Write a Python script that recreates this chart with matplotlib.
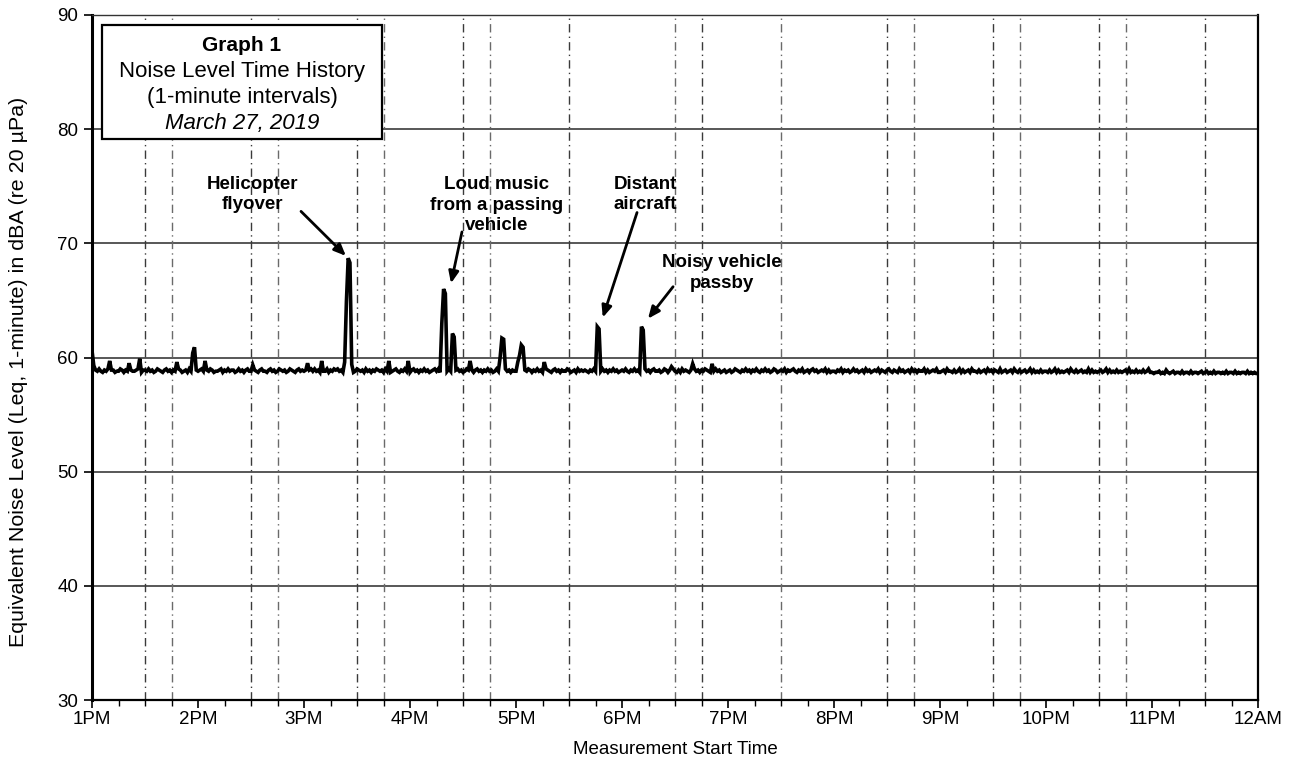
import numpy as np
import matplotlib
matplotlib.use("Agg")
import matplotlib.pyplot as plt
from matplotlib.ticker import MultipleLocator

plt.rcParams['font.family'] = ['Liberation Sans', 'DejaVu Sans']

# Per-minute background level, one string per hour (1PM .. 11PM).
# Each digit d stands for 58.5 + 0.1*d dBA.
hour_levels = [
    "4343532435 3442335424 3543345324 4353423543 2453424335 4234253434",
    "3453243542 3345243534 4235342453 3543245332 4534235434 2354324534",
    "3424535342 4335243545 3424353423 5434253424 3543425342 3453243534",
    "2453424353 4234535243 4353424534 2354342453 4243534235 3424534243",
    "3534243542 4353423543 2453424335 4234253434 3243534235 3424353423",
    "4353243534 2435342453 3423542435 3242534324 3534243543 2435342342",
    "3423543243 5342435324 3534235423 4352434532 4352342453 4234352423",
    "3243524342 3534234253 4234352432 4532432534 2342534243 3524234352",
    "2342533242 3524234253 3242342534 2432523423 4253242342 3524232423",
    "3242352423 2342532423 4232524232 3423524232 4232342523 2423242352",
    "2122312142 1231221312 2131221231 2312131221 2131221312 1221312121",
]
final_level_digit = "1"

# Minutes (after 1PM) with louder readings, and their levels in dBA.
event_minutes = [0, 1, 10, 21, 27, 48, 57, 58, 64, 91, 122, 130,
                 143, 144, 145, 146, 147, 168, 179,
                 198, 199, 200, 204, 205, 214,
                 231, 232, 233, 241, 242, 243, 244, 256,
                 286, 287, 311, 312, 328, 340, 351]
event_levels = [60.6, 59.3, 59.7, 59.5, 59.9, 59.6, 60.4, 60.9, 59.7, 59.35, 59.5, 59.7,
                59.6, 64.9, 68.7, 68.3, 59.4, 59.7, 59.7,
                63.0, 66.0, 65.6, 62.1, 61.8, 59.7,
                60.0, 61.7, 61.6, 59.6, 60.2, 61.1, 60.9, 59.6,
                62.7, 62.5, 62.7, 62.4, 59.2, 59.45, 59.45]

hour_labels = ['1PM', '2PM', '3PM', '4PM', '5PM', '6PM', '7PM', '8PM',
               '9PM', '10PM', '11PM', '12AM']

# Faint dash-dot verticals at the half hour and quarter-to marks (minutes)
guide_minutes = [30, 45, 90, 105, 150, 165, 210, 225, 270, 330, 345,
                 390, 450, 465, 510, 525, 570, 585, 630]

annotations = [
    ("Helicopter\nflyover", (90.6, 74.3), (118.3, 72.8), (143.7, 68.9)),
    ("Loud music\nfrom a passing\nvehicle", (229.2, 73.35), (209.4, 71.0), (203.2, 66.5)),
    ("Distant\naircraft", (313.0, 74.3), (308.5, 72.7), (289.1, 63.5)),
    ("Noisy vehicle\npassby", (356.6, 67.4), (328.9, 66.2), (314.7, 63.4)),
]

# ---- assemble the series ----
digits = "".join(s.replace(" ", "") for s in hour_levels) + final_level_digit
levels = np.array([58.5 + 0.1 * int(c) for c in digits])
for m, v in zip(event_minutes, event_levels):
    levels[m] = v
minutes = np.arange(len(levels))

fig = plt.figure(figsize=(12.96, 7.61), dpi=100)
ax = fig.add_axes([0.0710, 0.0801, 0.8997, 0.9002])

ax.set_xlim(0, 660)
ax.set_ylim(30, 90)

# horizontal grid
for y in [40, 50, 60, 70, 80]:
    ax.axhline(y, color='#2a2a2a', lw=1.1, zorder=1)

# vertical guides
for i, m in enumerate(guide_minutes):
    ax.axvline(m, color='#3a3a3a' if i % 2 == 0 else '#6a6a6a',
               lw=1.0, ls=(0, (6, 3, 1, 3)), zorder=1)

ax.plot(minutes, levels, color='black', lw=2.6, zorder=3,
        solid_joinstyle='miter')

# axes styling
ax.spines['left'].set_linewidth(2.2)
ax.spines['right'].set_linewidth(1.6)
ax.spines['bottom'].set_linewidth(1.6)
ax.spines['top'].set_linewidth(1.0)
ax.spines['top'].set_linestyle((0, (1.5, 1)))
ax.spines['top'].set_color('#333333')

ax.set_xticks(np.arange(0, 661, 60))
ax.set_xticklabels(hour_labels)
ax.xaxis.set_minor_locator(MultipleLocator(15))
ax.set_yticks(np.arange(30, 91, 10))
ax.tick_params(axis='x', which='major', direction='out', length=6, width=1.2,
               labelsize=13.5, pad=2)
ax.tick_params(axis='x', which='minor', direction='out', length=4, width=1.0)
ax.tick_params(axis='y', which='major', direction='out', length=6, width=1.2,
               labelsize=13.5, pad=4)

ax.set_xlabel('Measurement Start Time', fontsize=13.5, labelpad=9)
ax.set_ylabel('Equivalent Noise Level (Leq, 1-minute) in dBA (re 20 µPa)',
              fontsize=15.4)
ax.yaxis.set_label_coords(-0.055, 0.479)

# title box
ax.add_patch(plt.Rectangle((0.0086, 0.819), 0.2401, 0.1664,
                           transform=ax.transAxes, facecolor='white',
                           edgecolor='black', lw=1.6, zorder=5))
ax.text(0.1286, 0.956, 'Graph 1', transform=ax.transAxes, ha='center',
        va='center', fontsize=15, fontweight='bold', zorder=6)
ax.text(0.1286, 0.918, 'Noise Level Time History', transform=ax.transAxes,
        ha='center', va='center', fontsize=16, zorder=6)
ax.text(0.1286, 0.880, '(1-minute intervals)', transform=ax.transAxes,
        ha='center', va='center', fontsize=16, zorder=6)
ax.text(0.1286, 0.842, 'March 27, 2019', transform=ax.transAxes,
        ha='center', va='center', fontsize=16, style='italic', zorder=6)

# event annotations
for label, txt_xy, tail, head in annotations:
    ax.text(*txt_xy, label, ha='center', va='center', fontsize=13.5,
            fontweight='bold', linespacing=1.25, zorder=6)
    ax.annotate('', xy=head, xytext=tail,
                arrowprops=dict(arrowstyle='-|>,head_length=0.7,head_width=0.3',
                                color='black', lw=2.0, shrinkA=0, shrinkB=0),
                zorder=6)

fig.savefig('out.png', dpi=100)
